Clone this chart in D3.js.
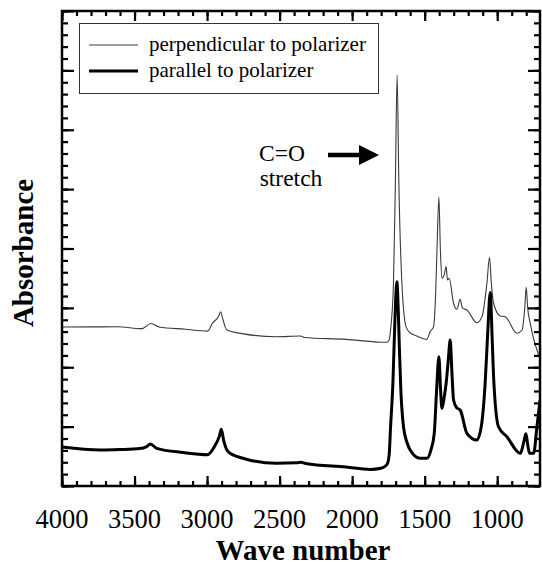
<!DOCTYPE html>
<html>
<head>
<meta charset="utf-8">
<script src="https://cdn.jsdelivr.net/npm/d3@7"></script>
<style>
  html, body { margin: 0; padding: 0; background: #fff; }
  svg { display: block; }
  svg text.lbl { font-family: "Liberation Serif", "Times New Roman", Tinos, serif; font-weight: normal; }
  svg text.ttl { font-family: "Liberation Serif", "Times New Roman", Tinos, serif; font-weight: bold; }
</style>
</head>
<body>
<svg id="chart" width="542" height="568"></svg>
<script>
// Spectrum perpendicular to the polarizer (thin trace): wave number, absorbance (arb. units)
const perpWave = [4000, 3800, 3617, 3450, 3386, 3331, 3150, 2997, 2961, 2920, 2907, 2890, 2866, 2759, 2521, 2354, 2330, 2043, 1805, 1760, 1745, 1733, 1715, 1702, 1690, 1678, 1657, 1628, 1600, 1554, 1485, 1462, 1439, 1425, 1415, 1402, 1392, 1381, 1365, 1352, 1343, 1331, 1301, 1278, 1255, 1240, 1209, 1140, 1105, 1071, 1053, 1040, 1025, 979, 945, 864, 829, 810, 800, 790, 772, 726, 705];
const perpAbs  = [13.39, 13.4, 13.41, 13.25, 13.68, 13.39, 13.2, 13.04, 13.74, 14.3, 14.67, 14.0, 13.15, 12.83, 12.57, 12.63, 12.51, 12.35, 12.11, 12.1, 12.3, 13.4, 17.1, 25.5, 34.6, 25.5, 17.1, 13.4, 12.9, 12.63, 12.35, 13.0, 13.4, 16.0, 19.9, 24.36, 20.0, 17.5, 17.8, 18.47, 17.35, 17.49, 15.39, 14.88, 15.72, 15.0, 14.82, 13.75, 14.26, 17.07, 19.26, 17.0, 15.39, 14.32, 14.26, 12.86, 13.14, 15.0, 16.73, 15.0, 13.7, 11.45, 10.8];

// Spectrum parallel to the polarizer (thick trace)
const paraWave = [4000, 3738, 3600, 3462, 3420, 3390, 3347, 3164, 2997, 2950, 2915, 2902, 2885, 2854, 2759, 2521, 2380, 2354, 2320, 2043, 1876, 1800, 1760, 1745, 1735, 1719, 1705, 1692, 1680, 1674, 1664, 1646, 1620, 1600, 1531, 1485, 1457, 1434, 1418, 1402, 1390, 1381, 1365, 1352, 1338, 1324, 1312, 1301, 1280, 1255, 1209, 1140, 1110, 1083, 1065, 1048, 1035, 1025, 991, 933, 841, 815, 802, 790, 777, 749, 726, 705];
const paraAbs  = [3.28, 3.03, 3.07, 3.16, 3.3, 3.54, 3.17, 2.82, 2.64, 3.31, 4.2, 4.77, 3.8, 2.88, 2.36, 1.91, 1.95, 2.0, 1.9, 1.6, 1.4, 1.5, 1.8, 2.6, 4.99, 8.67, 14.0, 17.2, 14.0, 11.45, 8.0, 4.99, 3.6, 3.03, 2.33, 2.33, 3.03, 4.44, 8.0, 10.89, 8.0, 6.54, 7.5, 8.65, 10.5, 12.29, 9.5, 7.24, 6.6, 6.4, 4.44, 3.87, 5.0, 8.67, 13.0, 16.3, 12.5, 9.2, 4.99, 4.15, 2.75, 3.8, 4.4, 3.5, 2.75, 2.75, 4.99, 7.2];

const seriesNames = ["perpendicular to polarizer", "parallel to polarizer"];
const xTickLabels = [4000, 3500, 3000, 2500, 2000, 1500, 1000];
const xMinorTicks = d3.range(4000, 700, -100);
const yMajorTicks = d3.range(0, 41, 5);
const yMinorTicks = d3.range(0, 41, 1);

const svg = d3.select("#chart");
const frame = { left: 62, right: 540, top: 11, bottom: 486 };

const x = d3.scaleLinear().domain([4000, 705]).range([frame.left, frame.right]);
const y = d3.scaleLinear().domain([0, 40]).range([frame.bottom, frame.top]);

const textLayer = svg.append("g").attr("class", "texts");

// bottom tick labels
textLayer.append("g").selectAll("text").data(xTickLabels).join("text")
  .attr("class", "lbl")
  .attr("x", d => x(d)).attr("y", 528)
  .attr("text-anchor", "middle").attr("font-size", 26.5).attr("fill", "#000")
  .text(d => d);

// axis titles
textLayer.append("text").attr("class", "ttl").attr("x", 303).attr("y", 560)
  .attr("text-anchor", "middle").attr("font-size", 29)
  .text("Wave number");
textLayer.append("text").attr("class", "ttl")
  .attr("transform", "translate(33,253) rotate(-90)")
  .attr("text-anchor", "middle").attr("font-size", 29)
  .text("Absorbance");

const plot = svg.append("g");

// clip traces to the frame
svg.append("defs").append("clipPath").attr("id", "plot-area")
  .append("rect").attr("x", frame.left).attr("y", frame.top)
  .attr("width", frame.right - frame.left).attr("height", frame.bottom - frame.top);

const line = d3.line()
  .x(d => x(d[0])).y(d => y(d[1]))
  .curve(d3.curveMonotoneX);

const perp = perpWave.map((w, i) => [w, perpAbs[i]]);
const para = paraWave.map((w, i) => [w, paraAbs[i]]);

const traces = plot.append("g").attr("clip-path", "url(#plot-area)");
traces.append("path").datum(perp)
  .attr("d", line).attr("fill", "none")
  .attr("stroke", "#3a3a3a").attr("stroke-width", 1.1);
traces.append("path").datum(para)
  .attr("d", line).attr("fill", "none")
  .attr("stroke", "#000").attr("stroke-width", 3)
  .attr("stroke-linejoin", "round");

// axes: ticks on all four sides, pointing inward
function tickAxis(axisFn, scale, values, size) {
  return axisFn(scale).tickValues(values).tickSize(size).tickFormat("");
}
const bx = plot.append("g").attr("transform", `translate(0,${frame.bottom})`);
bx.call(tickAxis(d3.axisTop, x, xMinorTicks, 5));
bx.append("g").call(tickAxis(d3.axisTop, x, xTickLabels, 10));
const tx = plot.append("g").attr("transform", `translate(0,${frame.top})`);
tx.call(tickAxis(d3.axisBottom, x, xMinorTicks, 5));
tx.append("g").call(tickAxis(d3.axisBottom, x, xTickLabels, 10));
const ly = plot.append("g").attr("transform", `translate(${frame.left},0)`);
ly.call(tickAxis(d3.axisRight, y, yMinorTicks, 6));
ly.append("g").call(tickAxis(d3.axisRight, y, yMajorTicks, 12));
const ry = plot.append("g").attr("transform", `translate(${frame.right},0)`);
ry.call(tickAxis(d3.axisLeft, y, yMinorTicks, 6));
ry.append("g").call(tickAxis(d3.axisLeft, y, yMajorTicks, 12));
plot.selectAll(".domain").remove();
plot.selectAll(".tick text").remove();
plot.selectAll(".tick line").attr("stroke", "#000").attr("stroke-width", 2.2);

// frame
plot.append("rect").attr("x", frame.left).attr("y", frame.top)
  .attr("width", frame.right - frame.left).attr("height", frame.bottom - frame.top)
  .attr("fill", "none").attr("stroke", "#000").attr("stroke-width", 2.5);

// legend
const lg = svg.append("g");
lg.append("rect").attr("x", 79.5).attr("y", 23.5).attr("width", 299).attr("height", 70)
  .attr("fill", "#fff").attr("stroke", "#333").attr("stroke-width", 1);
const legendRows = [
  { name: seriesNames[0], width: 1.1, color: "#3a3a3a", cy: 45 },
  { name: seriesNames[1], width: 3, color: "#000", cy: 71 }
];
legendRows.forEach(r => {
  lg.append("line").attr("x1", 89).attr("x2", 138).attr("y1", r.cy).attr("y2", r.cy)
    .attr("stroke", r.color).attr("stroke-width", r.width);
  lg.append("text").attr("class", "lbl").attr("x", 149).attr("y", r.cy + 6)
    .attr("font-size", 21).text(r.name);
});

// C=O annotation with arrow pointing at the carbonyl band
svg.append("text").attr("class", "lbl").attr("x", 282).attr("y", 161)
  .attr("text-anchor", "middle").attr("font-size", 23.5).text("C=O");
svg.append("text").attr("class", "lbl").attr("x", 291).attr("y", 186)
  .attr("text-anchor", "middle").attr("font-size", 23.5).text("stretch");
svg.append("line").attr("x1", 328).attr("x2", 362).attr("y1", 155).attr("y2", 155)
  .attr("stroke", "#000").attr("stroke-width", 4.5);
svg.append("path").attr("d", "M359,145 L379,155 L359,165 Z").attr("fill", "#000");
</script>
</body>
</html>
